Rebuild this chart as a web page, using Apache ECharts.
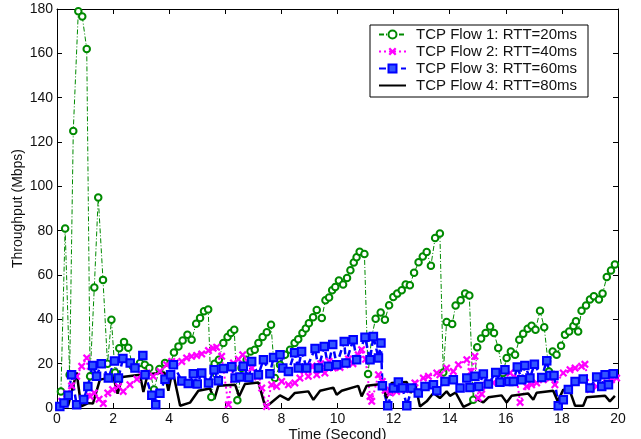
<!DOCTYPE html>
<html>
<head>
<meta charset="utf-8">
<script src="https://cdn.jsdelivr.net/npm/echarts@6/dist/echarts.min.js"></script>
<style>
  html, body { margin: 0; padding: 0; background: #fff; }
  #chart { width: 641px; height: 439px; }
</style>
</head>
<body>
<div id="chart"></div>
<script>
// Per-flow throughput samples: time (s) and throughput (Mbps)
var flowNames = [
  'TCP Flow 1: RTT=20ms',
  'TCP Flow 2: RTT=40ms',
  'TCP Flow 3: RTT=60ms',
  'TCP Flow 4: RTT=80ms'
];

var flow1Time = [0.14, 0.29, 0.45, 0.58, 0.76, 0.90, 1.06, 1.18, 1.33, 1.47, 1.64, 1.80, 1.94, 2.07, 2.22, 2.39, 2.54, 2.70, 2.96, 3.13, 3.29, 3.46, 3.65, 3.85, 4.05, 4.17, 4.33, 4.48, 4.65, 4.80, 4.96, 5.10, 5.24, 5.39, 5.50, 5.62, 5.77, 5.93, 6.08, 6.20, 6.32, 6.43, 6.58, 6.76, 6.90, 7.05, 7.18, 7.33, 7.48, 7.63, 7.77, 7.95, 8.13, 8.31, 8.47, 8.60, 8.75, 8.87, 8.98, 9.13, 9.26, 9.44, 9.57, 9.70, 9.81, 9.92, 10.05, 10.20, 10.34, 10.46, 10.58, 10.68, 10.79, 10.96, 11.09, 11.22, 11.36, 11.54, 11.69, 11.84, 11.99, 12.13, 12.29, 12.43, 12.58, 12.73, 12.89, 13.04, 13.18, 13.33, 13.48, 13.65, 13.77, 13.89, 14.09, 14.21, 14.39, 14.55, 14.70, 14.84, 14.98, 15.12, 15.28, 15.44, 15.58, 15.73, 15.90, 16.03, 16.18, 16.33, 16.48, 16.62, 16.78, 16.92, 17.06, 17.22, 17.37, 17.54, 17.67, 17.81, 17.97, 18.11, 18.26, 18.41, 18.50, 18.58, 18.70, 18.86, 19.00, 19.14, 19.32, 19.45, 19.60, 19.75, 19.89];
var flow1Rate = [7.4, 81, 15, 125, 179, 176.6, 162, 14.3, 54.4, 95, 57.8, 20, 39.8, 16, 27, 29.8, 27.2, 18.8, 20.3, 19.5, 18, 8.3, 17.6, 20.3, 20.3, 25, 27.8, 30.5, 33, 30.8, 38, 40.6, 43.6, 44.4, 5, 20, 21.8, 29.3, 32, 33.8, 35.3, 3.5, 18, 21.8, 25.5, 26.3, 29.3, 32, 34.2, 37.6, 13.5, 19.5, 24, 26.3, 29.3, 31, 33.8, 35.9, 38.2, 40.9, 44.2, 40.6, 48.6, 49.9, 53.1, 54.6, 57.5, 55.7, 58.7, 62.1, 65.6, 68, 70.5, 69.5, 15.3, 32.3, 40.3, 43.1, 39.8, 46.3, 50.1, 51.6, 53.1, 55.7, 55.4, 61, 65.7, 68.3, 70.4, 64.2, 76.7, 78.7, 16, 38.8, 37.9, 46.2, 48.6, 51.6, 50.7, 3.7, 27.4, 31.3, 33.8, 36.8, 33.8, 27.1, 15.8, 22.6, 25.5, 24, 30.8, 33.5, 35.7, 37.1, 35.3, 43.9, 36.4, 16.5, 25.5, 24, 28.1, 33.1, 34.5, 37, 39.1, 34.5, 43.9, 46.2, 48.9, 50.4, 48.9, 51.6, 59.1, 62, 64.7];

var flow2Time = [0.17, 0.35, 0.52, 0.70, 0.88, 1.06, 1.18, 1.33, 1.50, 1.65, 1.81, 1.98, 2.19, 2.36, 2.60, 2.85, 3.02, 3.20, 3.43, 3.67, 3.91, 4.09, 4.21, 4.45, 4.62, 4.80, 4.98, 5.16, 5.40, 5.57, 5.69, 5.87, 6.11, 6.29, 6.47, 6.62, 6.80, 6.95, 7.15, 7.30, 7.47, 7.65, 7.83, 8.01, 8.25, 8.48, 8.66, 8.80, 8.96, 9.10, 9.26, 9.40, 9.55, 9.70, 9.85, 10.09, 10.27, 10.39, 10.55, 10.74, 10.86, 11.00, 11.16, 11.22, 11.46, 11.60, 11.70, 11.89, 12.11, 12.41, 12.76, 13.06, 13.24, 13.54, 13.65, 13.89, 14.13, 14.31, 14.61, 14.76, 14.90, 15.02, 15.14, 15.32, 15.55, 15.85, 16.15, 16.39, 16.51, 16.74, 16.92, 17.10, 17.34, 17.58, 17.75, 18.05, 18.29, 18.47, 18.70, 18.82, 19.00, 19.24, 19.42, 19.60, 19.77, 19.95];
var flow2Rate = [3, 6.5, 10, 14.3, 18.8, 22.6, 5.2, 6.8, 4, 2, 6.8, 8.3, 9.7, 7.5, 10.5, 13, 15, 15.8, 14.3, 16.5, 19.5, 21, 20.3, 21, 22.6, 23.3, 23.7, 24.4, 25.9, 27, 27.4, 23.3, 1.5, 20.3, 22, 24, 21, 18, 14, 9, 0.7, 10.5, 9.7, 12, 10.5, 11.3, 13.5, 17, 14.3, 19, 15, 20, 15.8, 21, 18, 18.3, 19.5, 22.1, 20, 24, 26.3, 22, 5.2, 3, 15, 12, 8, 6.8, 7.5, 8.3, 11.3, 13.5, 14.3, 15.8, 15, 18, 16.5, 19.5, 21.8, 16.5, 23.3, 4.5, 6.3, 10.5, 11.3, 12, 15.8, 13.5, 2.5, 9.7, 10.5, 11.3, 12.8, 13.5, 10.5, 15.8, 17.3, 18, 18.8, 19.7, 8.3, 9.7, 10, 11.3, 12.8, 13.5];

var flow3Time = [0.10, 0.25, 0.40, 0.52, 0.70, 0.95, 1.10, 1.27, 1.41, 1.58, 1.83, 2.05, 2.19, 2.35, 2.61, 2.78, 3.06, 3.14, 3.38, 3.52, 3.67, 3.85, 4.05, 4.15, 4.45, 4.68, 4.86, 5.00, 5.16, 5.40, 5.60, 5.75, 5.93, 6.23, 6.35, 6.52, 6.64, 6.84, 6.94, 7.18, 7.36, 7.59, 7.72, 7.95, 8.05, 8.25, 8.47, 8.60, 8.72, 8.90, 9.20, 9.32, 9.53, 9.67, 9.83, 9.97, 10.24, 10.30, 10.56, 10.68, 10.98, 11.16, 11.28, 11.46, 11.55, 11.60, 11.79, 11.99, 12.17, 12.32, 12.47, 12.65, 12.88, 13.12, 13.42, 13.54, 13.83, 14.13, 14.37, 14.61, 14.72, 14.90, 15.04, 15.20, 15.38, 15.64, 15.79, 15.97, 16.11, 16.27, 16.41, 16.57, 16.68, 16.86, 17.02, 17.28, 17.46, 17.58, 17.72, 17.87, 18.05, 18.23, 18.47, 18.76, 19.00, 19.24, 19.42, 19.54, 19.66, 19.83];
var flow3Rate = [0.7, 2.3, 5.8, 15, 1.5, 3.8, 9.7, 19.2, 14.3, 20, 13.5, 21.2, 13.5, 22.3, 20.3, 18, 23.7, 15, 5.8, 1.5, 6.6, 13, 15, 19.5, 12.2, 11, 15.5, 10.8, 15.8, 11.3, 17.3, 12.3, 17.8, 18.6, 13.5, 14, 18.8, 13.8, 21, 15, 21.8, 15.5, 22.8, 24, 18, 16.5, 24.9, 18, 25.5, 18, 26.8, 18, 27.8, 18.8, 28.6, 19.5, 30, 20.3, 30.8, 21.8, 31.9, 21.8, 32.3, 22.6, 29.3, 10, 1, 9, 11.7, 9, 1, 9, 6.8, 9.7, 10.5, 7.8, 12, 12.8, 9, 13.5, 9.3, 14.3, 9.7, 15.3, 10.8, 16, 11.6, 17.3, 12, 12, 18.5, 12.8, 19.2, 13.5, 19.7, 13.8, 21.3, 14.7, 14.7, 1, 3.7, 8.3, 12, 13.1, 9, 14, 9.7, 15, 10.5, 15.5];

var flow4Time = [0, 0.40, 0.70, 0.86, 1.12, 1.28, 1.53, 2.01, 2.16, 2.33, 2.96, 3.08, 3.23, 3.83, 3.97, 4.12, 4.39, 4.74, 5.04, 5.45, 5.61, 5.75, 6.35, 6.49, 6.70, 7.18, 7.42, 7.59, 7.95, 8.25, 8.48, 8.96, 9.14, 9.38, 9.85, 9.97, 10.15, 10.74, 10.86, 11.04, 11.58, 11.75, 11.93, 12.47, 12.61, 12.76, 12.94, 13.18, 13.42, 13.65, 13.89, 14.01, 14.21, 14.49, 14.66, 14.96, 15.20, 15.38, 15.85, 16.03, 16.21, 16.80, 16.98, 17.10, 17.69, 17.85, 18.05, 18.29, 18.47, 18.76, 18.88, 19.54, 19.71, 19.89];
var flow4Rate = [0.7, 1.3, 16, 0.8, 2.2, 2.0, 12.8, 14, 6.5, 14, 15, 7.2, 15.2, 16, 7.8, 17, 1, 2.4, 7.8, 8.8, 4, 10, 10.5, 5.2, 10.8, 11.5, 0.7, 1.9, 5.7, 3.7, 6.8, 7.5, 3.7, 7.8, 9.2, 6, 7.8, 10, 5.2, 10, 10.8, 4.5, 11.3, 11.7, 6.8, 11.3, 0.7, 3, 6.8, 4.5, 7.5, 5.5, 7, 0.5, 1.5, 4, 2.5, 4.8, 5.7, 2.5, 5.5, 6.5, 3.7, 6.9, 7.8, 3, 8.3, 7.5, 1, 1, 4.8, 5.5, 3, 5.5];

// Axis ranges
var timeTicks = { min: 0, max: 20, step: 2 };
var rateTicks = { min: 0, max: 180, step: 20 };

function pairs(ts, vs) {
  return ts.map(function (t, i) { return [t, vs[i]]; });
}

var FONT = '"Liberation Sans", Arial, Helvetica, sans-serif';
var crossPath = 'path://M0,2L2,0L5,3L8,0L10,2L7,5L10,8L8,10L5,7L2,10L0,8L3,5Z';

var axisCommon = {
  type: 'value',
  axisLine: { show: true, onZero: false, lineStyle: { color: '#000', width: 1 } },
  axisTick: { show: true, inside: true, length: 5, lineStyle: { color: '#000', width: 1 } },
  splitLine: { show: false }
};

function xAxisDef(pos, labels) {
  return Object.assign({}, axisCommon, {
    position: pos,
    min: timeTicks.min, max: timeTicks.max, interval: timeTicks.step,
    axisLabel: { show: labels, color: '#111', fontSize: 14, fontFamily: FONT, margin: 4 },
    name: labels ? 'Time (Second)' : '',
    nameLocation: 'middle',
    nameGap: 19,
    nameMoveOverlap: false,
    nameTextStyle: { color: '#111', fontSize: 15, fontFamily: FONT }
  });
}
function yAxisDef(pos, labels) {
  return Object.assign({}, axisCommon, {
    position: pos,
    min: rateTicks.min, max: rateTicks.max, interval: rateTicks.step,
    axisLabel: { show: labels, color: '#111', fontSize: 14, fontFamily: FONT, margin: 4 },
    name: labels ? 'Throughput (Mbps)' : '',
    nameLocation: 'middle',
    nameGap: 32,
    nameMoveOverlap: false,
    nameTextStyle: { color: '#111', fontSize: 14, fontFamily: FONT }
  });
}

var chart = echarts.init(document.getElementById('chart'), null, { renderer: 'canvas' });
chart.setOption({
  animation: false,
  backgroundColor: '#fff',
  grid: { left: 57, right: 23, top: 9, bottom: 31, containLabel: false, outerBoundsMode: 'none' },
  xAxis: [xAxisDef('bottom', true), xAxisDef('top', false)],
  yAxis: [yAxisDef('left', true), yAxisDef('right', false)],
  legend: {
    orient: 'vertical',
    left: 370, top: 25,
    padding: [1, 11, 3, 8],
    itemGap: 0,
    itemWidth: 27,
    itemHeight: 10,
    backgroundColor: '#fff',
    borderColor: '#000',
    borderWidth: 1,
    borderRadius: 0,
    textStyle: { color: '#111', fontSize: 15, fontFamily: FONT, lineHeight: 17, padding: [0, 0, 0, 5] },
    data: [
      flowNames[0],
      flowNames[1],
      flowNames[2],
      { name: flowNames[3], itemStyle: { color: 'transparent', borderWidth: 0 } }
    ]
  },
  series: [
    {
      name: flowNames[0], type: 'line', xAxisIndex: 0, yAxisIndex: 0,
      data: pairs(flow1Time, flow1Rate),
      symbol: 'emptyCircle', symbolSize: 6.5, showSymbol: true,
      lineStyle: { color: '#008a00', width: 1, type: [5, 2, 1, 2] },
      itemStyle: { color: '#008a00', borderColor: '#008a00', borderWidth: 1 }
    },
    {
      name: flowNames[1], type: 'line', xAxisIndex: 0, yAxisIndex: 0,
      data: pairs(flow2Time, flow2Rate),
      symbol: crossPath, symbolSize: 8, showSymbol: true,
      lineStyle: { color: '#ff00ff', width: 2, type: [2, 3] },
      itemStyle: { color: '#ff00ff' }
    },
    {
      name: flowNames[2], type: 'line', xAxisIndex: 0, yAxisIndex: 0,
      data: pairs(flow3Time, flow3Rate),
      symbol: 'rect', symbolSize: 7.5, showSymbol: true,
      lineStyle: { color: '#0000ff', width: 2.5, type: [7, 4] },
      itemStyle: { color: '#3355ff', borderColor: '#0000ff', borderWidth: 2 }
    },
    {
      name: flowNames[3], type: 'line', xAxisIndex: 0, yAxisIndex: 0,
      data: pairs(flow4Time, flow4Rate),
      symbol: 'none',
      lineStyle: { color: '#000', width: 2.5, type: 'solid' },
      itemStyle: { color: '#000' }
    }
  ]
});
</script>
</body>
</html>
